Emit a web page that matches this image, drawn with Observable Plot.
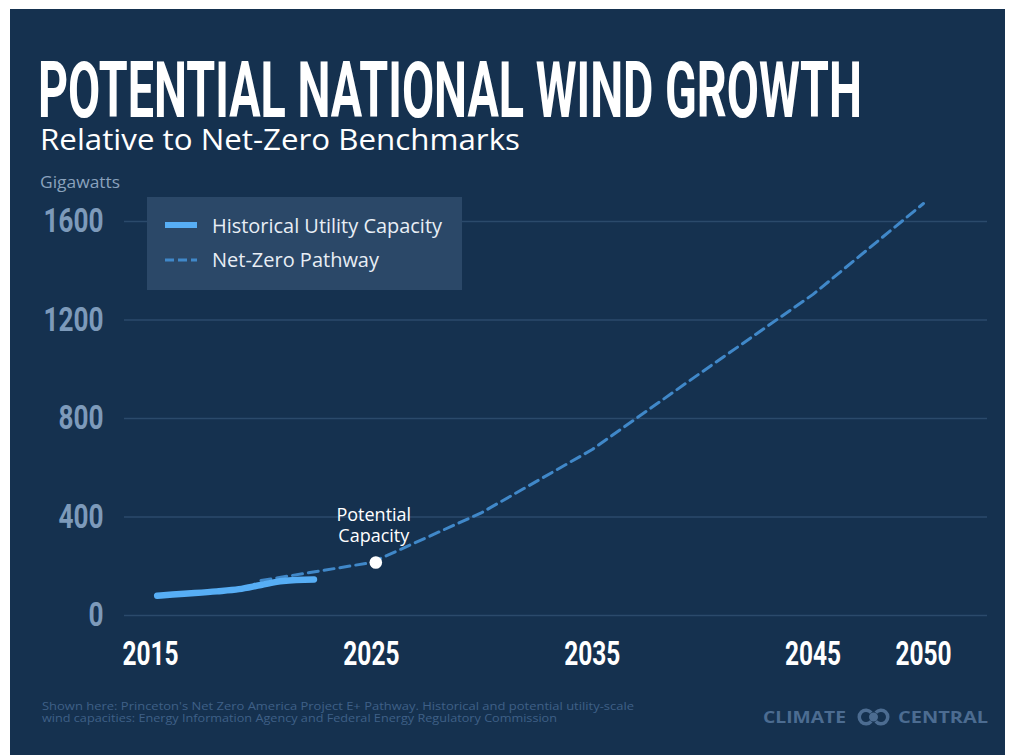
<!DOCTYPE html>
<html><head><meta charset="utf-8">
<script src="https://cdn.jsdelivr.net/npm/d3@7"></script>
<script src="https://cdn.jsdelivr.net/npm/@observablehq/plot@0.6"></script>
<style>
html,body{margin:0;padding:0;background:#fff;width:1010px;height:755px;overflow:hidden}
#panel{position:absolute;left:10px;top:9px;width:995px;height:746px;background:#15314f;overflow:hidden}
#chart{position:absolute;left:0;top:181px;width:995px;height:490px}
#overlay{position:absolute;left:0;top:0;width:995px;height:746px;pointer-events:none}
</style>
</head><body>
<div id="panel">
  <div id="chart"></div>
  <svg id="overlay" width="995" height="746"></svg>
</div>
<script>
// ---- data ----
const histYears = [2015.3, 2016, 2017, 2018, 2019, 2020, 2021, 2022.4];
const histGW    = [80, 85, 91, 98, 107, 124, 140, 146];
const pathYears = [2020, 2025, 2030, 2035, 2040, 2045, 2050];
const pathGW    = [142, 215, 418, 674, 991, 1304, 1673];
const potentialYear = [2025.2];
const potentialGW   = [215];
const yTicks = [0, 400, 800, 1200, 1600];
const xTicks = [2015, 2025, 2035, 2045, 2050];
const seriesNames = ["Historical Utility Capacity", "Net-Zero Pathway"];

const hist = histYears.map((y, i) => ({year: y, gw: histGW[i]}));
const path = pathYears.map((y, i) => ({year: y, gw: pathGW[i]}));
const pot  = potentialYear.map((y, i) => ({year: y, gw: potentialGW[i]}));

const GRID = "#2b4a6b", HIST = "#57aef5", PATH = "#4088c9";
const COND = "Roboto, 'Liberation Sans', sans-serif";
const BODY = "'Open Sans', 'Noto Sans', sans-serif";

const chart = Plot.plot({
  width: 995, height: 490,
  marginLeft: 114, marginRight: 18, marginTop: 0, marginBottom: 65,
  style: {background: "transparent", overflow: "visible"},
  x: {domain: [2013.82, 2052.9]},
  y: {domain: [0, 1725.9]},
  marks: [
    Plot.ruleY(yTicks, {stroke: GRID, strokeWidth: 1.5}),
    Plot.axisY({ticks: yTicks, tickFormat: d => String(d), tickSize: 0, tickPadding: 21, fontSize: 34, label: null}),
    Plot.axisX({ticks: xTicks, tickFormat: d => String(d), tickSize: 0, tickPadding: 25, fontSize: 34, label: null}),
    Plot.line(path, {x: "year", y: "gw", stroke: PATH, strokeWidth: 3, strokeDasharray: "10,6"}),
    Plot.line(hist, {x: "year", y: "gw", stroke: HIST, strokeWidth: 6.5, curve: "monotone-x"}),
    Plot.dot(pot, {x: "year", y: "gw", r: 6.3, fill: "#fff", stroke: null}),
    Plot.text(pot, {x: "year", y: "gw", text: () => "Potential\nCapacity", lineAnchor: "bottom", dy: -21, dx: -2,
      fontSize: 18, lineHeight: 1.17, fill: "#fff", fontFamily: BODY})
  ]
});
document.getElementById("chart").appendChild(chart);

// style the axis tick labels: condensed bold
const svg = d3.select(chart);
function condense(sel, fill, k) {
  sel.each(function() {
    const t = d3.select(this);
    const tr = t.attr("transform") || "";
    const x = +t.attr("x") || 0, y = +t.attr("y") || 0;
    t.attr("transform", `${tr} translate(${x},${y}) scale(${k},1) translate(${-x},${-y})`)
     .style("font-family", COND).style("font-weight", 700).attr("fill", fill);
  });
}
svg.selectAll("g[aria-label='y-axis tick label']").attr("fill", "#7d9aba");
svg.selectAll("g[aria-label='x-axis tick label']").attr("fill", "#ffffff");
condense(svg.selectAll("g[aria-label='y-axis tick label'] text"), "#7d9aba", 0.77);
condense(svg.selectAll("g[aria-label='x-axis tick label'] text"), "#ffffff", 0.72);

// ---- overlay: header, legend, footer ----
const ov = d3.select("#overlay");
ov.append("text").text("POTENTIAL NATIONAL WIND GROWTH")
  .attr("x", 28).attr("y", 108).attr("fill", "#fff")
  .style("font-family", COND).style("font-weight", 700).style("font-size", "77px")
  .attr("textLength", 824).attr("lengthAdjust", "spacingAndGlyphs");
ov.append("text").text("Relative to Net-Zero Benchmarks")
  .attr("x", 30).attr("y", 141).attr("fill", "#fff")
  .style("font-family", BODY).style("font-size", "29px")
  .attr("textLength", 480).attr("lengthAdjust", "spacingAndGlyphs");
ov.append("text").text("Gigawatts")
  .attr("x", 30).attr("y", 179).attr("fill", "#8aa2bd")
  .style("font-family", BODY).style("font-size", "15.5px")
  .attr("textLength", 80).attr("lengthAdjust", "spacingAndGlyphs");

// legend
const lg = ov.append("g").attr("transform", "translate(137,188)");
lg.append("rect").attr("width", 315).attr("height", 93).attr("fill", "#2b4868");
lg.append("line").attr("x1", 18).attr("x2", 50).attr("y1", 28).attr("y2", 28)
  .attr("stroke", HIST).attr("stroke-width", 6);
lg.append("line").attr("x1", 18).attr("x2", 50).attr("y1", 63).attr("y2", 63)
  .attr("stroke", PATH).attr("stroke-width", 3).attr("stroke-dasharray", "9,4");
lg.append("text").text(seriesNames[0]).attr("x", 65).attr("y", 36).attr("fill", "#e8eef5")
  .style("font-family", BODY).style("font-size", "20px")
  .attr("textLength", 230).attr("lengthAdjust", "spacingAndGlyphs");
lg.append("text").text(seriesNames[1]).attr("x", 65).attr("y", 70).attr("fill", "#e8eef5")
  .style("font-family", BODY).style("font-size", "20px")
  .attr("textLength", 167).attr("lengthAdjust", "spacingAndGlyphs");

// footer
const foot = ["Shown here: Princeton's Net Zero America Project E+ Pathway. Historical and potential utility-scale",
              "wind capacities: Energy Information Agency and Federal Energy Regulatory Commission"];
ov.append("text").text(foot[0]).attr("x", 32).attr("y", 701).attr("fill", "#3f6087")
  .style("font-family", BODY).style("font-size", "11px")
  .attr("textLength", 592).attr("lengthAdjust", "spacingAndGlyphs");
ov.append("text").text(foot[1]).attr("x", 32).attr("y", 713).attr("fill", "#3f6087")
  .style("font-family", BODY).style("font-size", "11px")
  .attr("textLength", 515).attr("lengthAdjust", "spacingAndGlyphs");

// logo
const LOGO = "#4c6c91";
ov.append("text").text("CLIMATE").attr("x", 753).attr("y", 714).attr("fill", LOGO)
  .style("font-family", BODY).style("font-weight", 700).style("font-size", "16px")
  .attr("textLength", 83).attr("lengthAdjust", "spacingAndGlyphs");
ov.append("text").text("CENTRAL").attr("x", 888).attr("y", 714).attr("fill", LOGO)
  .style("font-family", BODY).style("font-weight", 700).style("font-size", "16px")
  .attr("textLength", 90).attr("lengthAdjust", "spacingAndGlyphs");
const arc = d3.arc().innerRadius(5).outerRadius(8.5);
ov.append("path").attr("transform", "translate(856,708)")
  .attr("d", arc({startAngle: Math.PI * 0.72, endAngle: Math.PI * 2.28})).attr("fill", LOGO);
ov.append("path").attr("transform", "translate(871,708)")
  .attr("d", arc({startAngle: -Math.PI * 0.28, endAngle: Math.PI * 1.28})).attr("fill", LOGO);
ov.append("circle").attr("cx", 863.5).attr("cy", 708).attr("r", 4.5).attr("fill", LOGO);
</script>
</body></html>
